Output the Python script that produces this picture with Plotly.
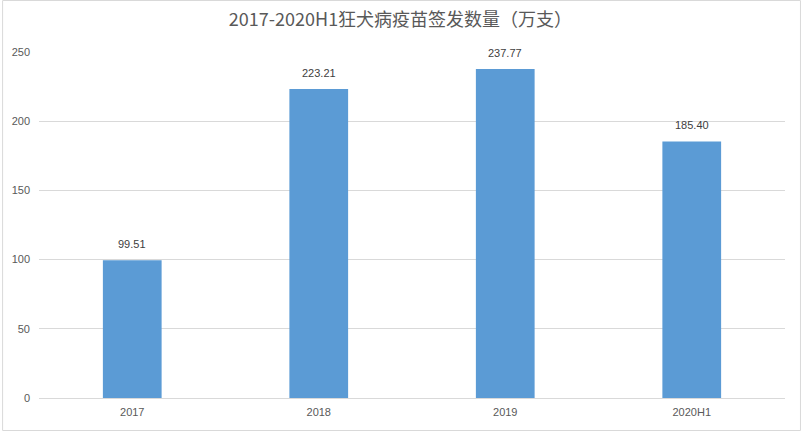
import plotly.graph_objects as go

categories = ["2017", "2018", "2019", "2020H1"]
values = [99.51, 223.21, 237.77, 185.40]
labels = ["99.51", "223.21", "237.77", "185.40"]
title_text = "2017-2020H1狂犬病疫苗签发数量（万支）"

W, H = 801, 431
ml, mr, mt, mb = 37, 16, 52, 33
pw, ph = W - ml - mr, H - mt - mb

fig = go.Figure(go.Bar(
    x=categories, y=values,
    marker=dict(color="#5B9BD5", line=dict(width=0)),
    hoverinfo="x+y",
))

# category axes place category i at index i
for i, (v, t) in enumerate(zip(values, labels)):
    fig.add_annotation(x=i, y=v, text=t, showarrow=False, yanchor="bottom", yshift=8,
                       font=dict(size=11, color="#404040", family="Liberation Sans, Arial"))

fig.update_layout(
    width=W, height=H,
    margin=dict(l=ml, r=mr, t=mt, b=mb),
    paper_bgcolor="white", plot_bgcolor="white",
    bargap=0.685,
    showlegend=False,
    title=dict(text=title_text, x=0.5, xanchor="center", y=1 - 20 / H, yanchor="middle",
               font=dict(size=18, color="#595959", family="Noto Sans CJK SC")),
    font=dict(family="Liberation Sans, Arial", size=11, color="#595959"),
    xaxis=dict(type="category", range=[-0.5, len(categories) - 0.5],
               showgrid=False, showline=True, linecolor="#d9d9d9", linewidth=1,
               ticks="", ticklabelstandoff=4, tickfont=dict(size=11, color="#595959")),
    yaxis=dict(range=[0, 250], dtick=50, showgrid=True, gridcolor="#d9d9d9", gridwidth=1,
               zeroline=False, showline=False, ticks="", ticklabelstandoff=8,
               tickfont=dict(size=11, color="#595959")),
)

fig.add_shape(type="rect", xref="paper", yref="paper",
              x0=(0.5 - ml) / pw, x1=(W - 0.5 - ml) / pw,
              y0=-(mb - 0.5) / ph, y1=1 + (mt - 0.5) / ph,
              line=dict(color="#d9d9d9", width=1), fillcolor="rgba(0,0,0,0)", layer="above")

fig.write_html("out.html", config={"displayModeBar": False},
               post_script="document.body.style.margin='0';")
